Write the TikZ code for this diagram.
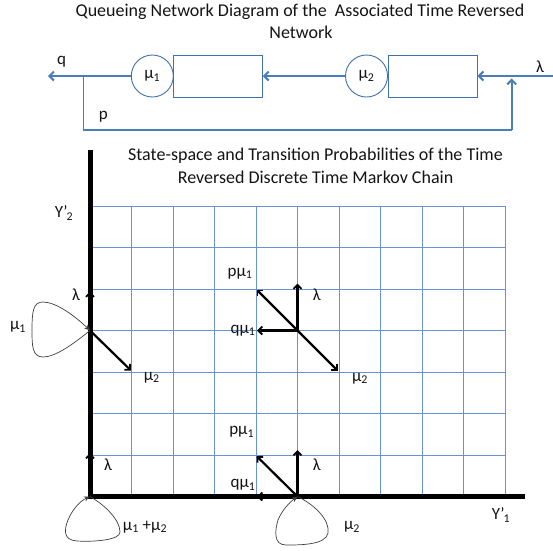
\documentclass[tikz,border=0pt]{standalone}
\usepackage{fontspec}
\setmainfont{Carlito}
\usetikzlibrary{arrows.meta}
\definecolor{lineblue}{RGB}{74,126,187}
\definecolor{boxblue}{RGB}{65,113,170}
\definecolor{gridblue}{RGB}{104,146,212}
\definecolor{txt}{RGB}{20,20,20}
\newcommand{\sub}[1]{\textsubscript{#1}}
\begin{document}
\begin{tikzpicture}[x=1pt,y=-1pt,
  lbl/.style={font=\fontsize{17}{20}\selectfont, text=txt, inner sep=0pt},
  ttl/.style={font=\fontsize{18}{21}\selectfont, text=txt, inner sep=0pt},
  flow/.style={draw=lineblue, line width=2.4pt, -{Straight Barb[length=4.5pt,width=9pt,line width=2pt]}},
  fbline/.style={draw=lineblue, line width=1.2pt},
  fbarrow/.style={draw=lineblue, line width=2pt, -{Straight Barb[length=4.5pt,width=9pt,line width=2pt]}},
  srv/.style={circle, draw=boxblue, line width=0.9pt, minimum size=42pt, inner sep=0pt, font=\fontsize{17}{20}\selectfont, text=txt},
  buf/.style={rectangle, draw=boxblue, line width=0.9pt, minimum width=89pt, minimum height=42pt, inner sep=0pt},
  gridl/.style={draw=gridblue, line width=1pt},
  axisl/.style={draw=black, line width=5pt},
  tr/.style={draw=black, line width=2.2pt, -{Straight Barb[length=4pt,width=8pt,line width=1.8pt]}},
  loopl/.style={draw=black!75, line width=0.7pt, -{Stealth[length=6pt,width=5pt]}}
]
\useasboundingbox (0,0) rectangle (553,550);

% ---- titles
\node[ttl] (t1a) at (300,12) {Queueing Network Diagram of the \ Associated Time Reversed};
\node[ttl] (t1b) at (301,32) {Network};
\node[ttl] (t2a) at (315.5,156) {State-space and Transition Probabilities of the Time};
\node[ttl] (t2b) at (315.5,177) {Reversed Discrete Time Markov Chain};

% ---- queueing network
\node[srv] (s1) at (152.3,76) {μ\sub{1}};
\node[buf] (b1) at (217.8,76) {};
\node[srv] (s2) at (366.5,76) {μ\sub{2}};
\node[buf] (b2) at (432.5,76) {};
\coordinate (qend) at (48,76);
\coordinate (lin) at (553,76);
\coordinate (br) at (83.3,76);
\coordinate (fb1) at (83.3,130);
\coordinate (fb2) at (511.7,130);
\coordinate (fb3) at (511.7,78.5);
\draw[flow] (s1.west) -- (qend);
\draw[flow] (s2.west) -- (b1.east);
\draw[flow] (lin) -- (b2.east);
\draw[fbline] (br) -- (fb1) -- (fb2);
\draw[fbarrow] (fb2) -- (fb3);
\node[lbl] (lq) at (61.7,61.5) {q};
\node[lbl] (lp) at (103.3,116.5) {p};
\node[lbl] (llam) at (540,66.5) {λ};

% ---- grid
\foreach \k in {0,...,10} \draw[gridl] ({90+41.5*\k},206) -- ({90+41.5*\k},496.5);
\foreach \j in {0,...,7} \draw[gridl] (90,{206+41.5*\j}) -- (505,{206+41.5*\j});
\draw[axisl] (90,150) -- (90,496.5) -- (525,496.5);

\coordinate (A) at (90,330.5);
\coordinate (B) at (297.5,330.5);
\coordinate (C) at (90,496.5);
\coordinate (D) at (297.5,496.5);

% state A
\coordinate (Al) at (90,291.5);
\coordinate (Am) at (131,370.5);
\draw[tr] (A) -- (Al);
\draw[tr] (A) -- (Am);
\draw[loopl] (A) .. controls (72,345) and (55,357) .. (43,357)
  .. controls (32,357) and (32,345) .. (32,330)
  .. controls (32,312) and (33,302) .. (43,302)
  .. controls (56,302) and (75,316) .. (A);
\node[lbl] (lA1) at (76,295) {λ};
\node[lbl] (lA2) at (18,327) {μ\sub{1}};
\node[lbl] (lA3) at (151.7,377.5) {μ\sub{2}};

% state B
\coordinate (Bp) at (256.5,289.5);
\coordinate (Bl) at (297.5,283.5);
\coordinate (Bq) at (257,330.5);
\coordinate (Bm) at (338,371);
\draw[tr] (B) -- (Bp);
\draw[tr] (B) -- (Bl);
\draw[tr] (B) -- (Bq);
\draw[tr] (B) -- (Bm);
\node[lbl] (lB1) at (240,273.5) {pμ\sub{1}};
\node[lbl] (lB2) at (316.7,295) {λ};
\node[lbl] (lB3) at (243,330.5) {qμ\sub{1}};
\node[lbl] (lB4) at (360,378.5) {μ\sub{2}};

% state C
\coordinate (Cl) at (90,453);
\draw[tr] (C) -- (Cl);
\draw[loopl] (C) .. controls (105,505) and (120,520) .. (120,532)
  .. controls (120,540) and (95,542) .. (77,541)
  .. controls (63,540) and (64,530) .. (68,520)
  .. controls (72,510) and (80,501) .. (C);
\node[lbl] (lC1) at (108,465) {λ};
\node[lbl] (lC2) at (145,527) {μ\sub{1} +μ\sub{2}};

% state D
\coordinate (Dp) at (256.5,456);
\coordinate (Dl) at (297.5,450);
\coordinate (Dq) at (257,496.5);
\draw[tr] (D) -- (Dp);
\draw[tr] (D) -- (Dl);
\draw[tr] (D) -- (Dq);
\draw[loopl] (D) .. controls (315,505) and (330,520) .. (328,533)
  .. controls (326,545) and (300,545) .. (286,545)
  .. controls (273,545) and (275,530) .. (278,520)
  .. controls (282,510) and (290,502) .. (D);
\node[lbl] (lD1) at (241.7,432) {pμ\sub{1}};
\node[lbl] (lD2) at (316.7,465) {λ};
\node[lbl] (lD3) at (243,485) {qμ\sub{1}};
\node[lbl] (lD4) at (352,527) {μ\sub{2}};

% axis labels
\node[lbl] (ly2) at (64,213) {Y’\kern-1pt\sub{2}};
\node[lbl] (ly1) at (501,515) {Y’\kern-1pt\sub{1}};
\end{tikzpicture}
\end{document}
